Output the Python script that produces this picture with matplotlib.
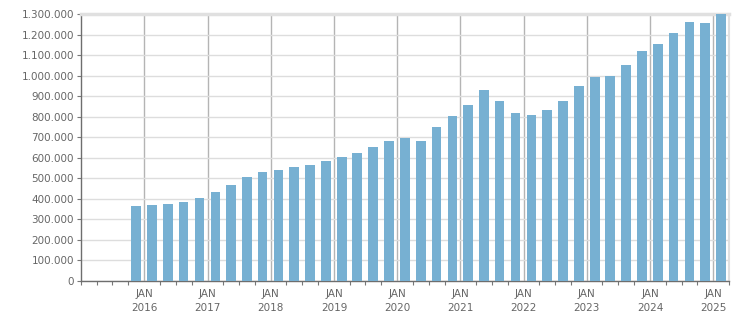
import matplotlib
matplotlib.use('Agg')
import matplotlib.pyplot as plt
import matplotlib.dates as mdates
from matplotlib.ticker import FuncFormatter
import pandas as pd

# quarterly values, Q4 2015 .. Q1 2025
start_quarter = '2015-10-01'
values = [364000, 369000, 374000, 384000, 403000, 432000, 467000, 506000,
          530000, 540000, 554000, 564000, 584000, 603000, 623000, 651000,
          681000, 696000, 681000, 749000, 803000, 857000, 930000, 876000,
          818000, 808000, 832000, 876000, 949000, 993000, 998000, 1052000,
          1120000, 1154000, 1208000, 1261000, 1256000, 1300000]
year_labels = list(range(2016, 2026))

quarters = pd.date_range(start_quarter, periods=len(values), freq='QS')
centers = quarters + pd.Timedelta(days=45)

fig = plt.figure(figsize=(7.51, 3.13), dpi=100)
ax = fig.add_axes([0.1079, 0.1032, 0.9707 - 0.1079, 0.9553 - 0.1032])

ax.bar(centers, values, width=56, color='#77b0d2', zorder=3)

ax.set_xlim(pd.Timestamp('2015-01-01'), pd.Timestamp('2025-04-01'))
ax.set_ylim(0, 1300000)
ax.set_yticks(range(0, 1300001, 100000))
ax.yaxis.set_major_formatter(FuncFormatter(lambda v, p: f'{int(v):,}'.replace(',', '.')))

jan_ticks = [pd.Timestamp(f'{y}-01-01') for y in year_labels]
ax.set_xticks(jan_ticks)
ax.set_xticklabels([f'JAN\n{y}' for y in year_labels], linespacing=1.45)
ax.xaxis.set_minor_locator(mdates.MonthLocator(bymonth=[1, 4, 7, 10]))

ax.grid(axis='y', color='#dddddd', linewidth=1, zorder=0)
ax.grid(axis='x', which='major', color='#b4b4b4', linewidth=1, zorder=1)

ax.tick_params(axis='both', which='both', colors='#777777', labelcolor='#666666', labelsize=7.5)
ax.tick_params(axis='y', length=3, width=0.8, pad=2)
ax.tick_params(axis='x', which='major', length=0, pad=6)
ax.tick_params(axis='x', which='minor', length=3, width=0.8)

for side in ['left', 'bottom']:
    ax.spines[side].set_color('#6e6e6e')
    ax.spines[side].set_linewidth(1)
ax.spines['top'].set_color('#e0e0e0')
ax.spines['top'].set_linewidth(2.5)
ax.spines['right'].set_color('#e0e0e0')
ax.spines['right'].set_linewidth(1.5)

fig.savefig('out.png', dpi=100)
